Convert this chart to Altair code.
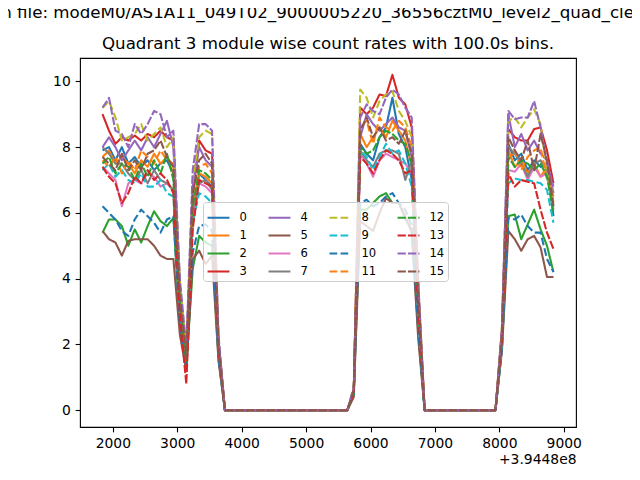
import altair as alt
import pandas as pd

# Bin times (s, relative to the axis offset +3.9448e8), 100 s bins
time_s = [1840, 1940, 2040, 2140, 2240, 2340, 2440, 2540, 2640, 2740,
          2840, 2940, 3040, 3140, 3240, 3340, 3440, 3540, 3640, 3740,
          3840, 3940, 4040, 4140, 4240, 4340, 4440, 4540, 4640, 4740,
          4840, 4940, 5040, 5140, 5240, 5340, 5440, 5540, 5640, 5740,
          5840, 5940, 6040, 6140, 6240, 6340, 6440, 6540, 6640, 6740,
          6840, 6940, 7040, 7140, 7240, 7340, 7440, 7540, 7640, 7740,
          7840, 7940, 8040, 8140, 8240, 8340, 8440, 8540, 8640, 8740,
          8840]

modules = [str(i) for i in range(16)]

m0 = [7.9, 8.0, 7.6, 8.0, 7.5, 7.7, 7.4, 7.6, 7.3, 7.5, 7.6, 7.2, 3.2, 1.4, 5.8, 7.2, 7.0, 6.8, 1.9,
      0, 0, 0, 0, 0, 0, 0, 0, 0, 0, 0, 0, 0, 0, 0, 0, 0, 0, 0, 0,
      0.6, 8.1, 7.8, 7.6, 8.3, 8.6, 9.5, 8.4, 8.0, 7.0, 3.0,
      0, 0, 0, 0, 0, 0, 0, 0, 0, 0, 0, 0,
      2.2, 8.1, 7.6, 7.8, 7.3, 7.6, 7.4, 7.5, 5.9]
m1 = [7.7, 7.9, 7.5, 7.7, 7.5, 7.2, 7.6, 7.4, 7.8, 7.5, 7.7, 7.4, 3.4, 1.6, 6.2, 7.2, 7.1, 6.9, 2.0,
      0, 0, 0, 0, 0, 0, 0, 0, 0, 0, 0, 0, 0, 0, 0, 0, 0, 0, 0, 0,
      0.5, 8.4, 8.0, 8.3, 8.6, 8.3, 8.8, 8.5, 8.2, 7.4, 3.4,
      0, 0, 0, 0, 0, 0, 0, 0, 0, 0, 0, 0,
      2.3, 7.9, 7.4, 7.6, 7.2, 7.5, 7.1, 7.4, 6.3]
m2 = [5.4, 5.8, 5.8, 5.6, 5.0, 5.5, 5.1, 5.6, 6.05, 5.75, 5.6, 5.85, 2.6, 1.3, 4.3, 5.3, 5.1, 5.0, 1.6,
      0, 0, 0, 0, 0, 0, 0, 0, 0, 0, 0, 0, 0, 0, 0, 0, 0, 0, 0, 0,
      0.5, 6.1, 6.1, 6.3, 6.5, 6.6, 6.3, 6.3, 5.8, 5.5, 2.4,
      0, 0, 0, 0, 0, 0, 0, 0, 0, 0, 0, 0,
      1.9, 5.9, 5.95, 5.2, 5.65, 6.1, 5.5, 5.0, 4.2]
m3 = [9.0, 8.5, 8.1, 8.3, 8.2, 8.35, 8.2, 8.4, 8.3, 8.5, 8.3, 8.2, 3.6, 1.5, 6.5, 8.2, 7.9, 7.8, 2.1,
      0, 0, 0, 0, 0, 0, 0, 0, 0, 0, 0, 0, 0, 0, 0, 0, 0, 0, 0, 0,
      0.6, 9.2, 9.0, 9.2, 9.6, 9.55, 10.2, 9.5, 9.3, 8.6, 3.8,
      0, 0, 0, 0, 0, 0, 0, 0, 0, 0, 0, 0,
      2.4, 8.55, 8.3, 8.2, 8.2, 8.55, 8.6, 7.9, 6.9]
m4 = [8.0, 8.3, 8.0, 7.6, 7.9, 8.2, 7.9, 8.3, 8.0, 8.4, 8.8, 8.0, 3.8, 1.7, 6.8, 8.0, 7.6, 7.4, 2.0,
      0, 0, 0, 0, 0, 0, 0, 0, 0, 0, 0, 0, 0, 0, 0, 0, 0, 0, 0, 0,
      0.6, 8.3, 9.0, 8.7, 8.5, 8.7, 8.9, 8.6, 8.5, 7.7, 3.6,
      0, 0, 0, 0, 0, 0, 0, 0, 0, 0, 0, 0,
      2.4, 9.0, 8.0, 8.4, 7.9, 8.2, 7.8, 7.6, 6.6]
m5 = [5.45, 5.2, 5.1, 4.7, 5.15, 5.2, 5.2, 5.2, 5.0, 4.7, 4.6, 4.6, 2.3, 1.2, 4.6, 4.85, 4.45, 4.7, 1.5,
      0, 0, 0, 0, 0, 0, 0, 0, 0, 0, 0, 0, 0, 0, 0, 0, 0, 0, 0, 0,
      0.4, 5.75, 5.6, 5.45, 6.0, 6.45, 6.3, 6.3, 5.9, 5.4, 2.2,
      0, 0, 0, 0, 0, 0, 0, 0, 0, 0, 0, 0,
      1.8, 5.45, 5.2, 4.85, 5.2, 5.3, 4.95, 4.05, 4.05]
m6 = [7.4, 7.2, 7.0, 6.2, 6.9, 7.0, 6.9, 7.2, 7.1, 6.8, 6.9, 6.7, 3.0, 1.4, 6.0, 6.9, 6.8, 6.6, 1.8,
      0, 0, 0, 0, 0, 0, 0, 0, 0, 0, 0, 0, 0, 0, 0, 0, 0, 0, 0, 0,
      0.5, 7.8, 7.5, 7.1, 7.6, 7.8, 7.7, 7.6, 7.5, 7.2, 3.0,
      0, 0, 0, 0, 0, 0, 0, 0, 0, 0, 0, 0,
      2.1, 7.3, 7.25, 7.5, 7.0, 7.4, 7.1, 7.2, 6.1]
m7 = [8.0, 7.8, 7.5, 7.5, 7.2, 7.0, 7.3, 6.9, 7.3, 7.0, 6.9, 6.7, 3.1, 1.5, 6.1, 6.9, 7.0, 6.7, 1.8,
      0, 0, 0, 0, 0, 0, 0, 0, 0, 0, 0, 0, 0, 0, 0, 0, 0, 0, 0, 0,
      0.5, 7.9, 7.6, 7.4, 7.8, 7.9, 7.9, 7.8, 7.0, 7.6, 3.1,
      0, 0, 0, 0, 0, 0, 0, 0, 0, 0, 0, 0,
      2.2, 8.0, 7.8, 7.5, 7.1, 7.5, 7.6, 7.3, 6.2]
m8 = [9.2, 9.4, 8.9, 8.2, 8.3, 8.4, 8.7, 8.2, 8.4, 8.6, 8.0, 8.3, 3.9, 1.8, 7.0, 8.3, 8.5, 8.4, 2.2,
      0, 0, 0, 0, 0, 0, 0, 0, 0, 0, 0, 0, 0, 0, 0, 0, 0, 0, 0, 0,
      0.7, 9.75, 9.5, 8.9, 9.4, 9.6, 9.7, 9.1, 8.8, 8.3, 3.9,
      0, 0, 0, 0, 0, 0, 0, 0, 0, 0, 0, 0,
      2.5, 8.8, 8.9, 8.6, 8.9, 9.15, 8.7, 7.2, 6.5]
m9 = [7.3, 7.5, 7.1, 7.3, 7.0, 6.9, 7.2, 6.8, 6.8, 7.0, 6.6, 6.5, 3.0, 1.4, 5.7, 6.6, 6.5, 6.3, 1.7,
      0, 0, 0, 0, 0, 0, 0, 0, 0, 0, 0, 0, 0, 0, 0, 0, 0, 0, 0, 0,
      0.5, 7.9, 7.7, 7.3, 7.7, 8.1, 7.8, 7.9, 7.5, 6.8, 2.8,
      0, 0, 0, 0, 0, 0, 0, 0, 0, 0, 0, 0,
      2.0, 6.9, 7.05, 7.0, 7.0, 6.95, 6.9, 6.7, 5.7]
m10 = [6.2, 6.0, 5.8, 5.45, 5.3, 5.8, 6.1, 5.9, 5.7, 5.4, 5.8, 5.9, 2.7, 1.3, 4.8, 5.6, 5.65, 5.45, 1.6,
       0, 0, 0, 0, 0, 0, 0, 0, 0, 0, 0, 0, 0, 0, 0, 0, 0, 0, 0, 0,
       0.5, 6.3, 6.4, 6.2, 6.3, 6.5, 6.6, 6.3, 6.1, 5.6, 2.5,
       0, 0, 0, 0, 0, 0, 0, 0, 0, 0, 0, 0,
       1.9, 5.85, 5.8, 5.95, 5.6, 5.4, 5.4, 4.6, 4.2]
m11 = [7.6, 7.4, 7.7, 7.2, 7.6, 7.3, 7.9, 7.7, 7.5, 7.9, 7.6, 7.5, 3.4, 1.6, 6.3, 7.4, 7.5, 7.2, 2.0,
       0, 0, 0, 0, 0, 0, 0, 0, 0, 0, 0, 0, 0, 0, 0, 0, 0, 0, 0, 0,
       0.6, 8.6, 8.8, 8.1, 8.9, 8.6, 8.5, 8.8, 8.6, 8.0, 3.7,
       0, 0, 0, 0, 0, 0, 0, 0, 0, 0, 0, 0,
       2.3, 7.6, 7.9, 7.3, 7.7, 7.9, 8.0, 7.0, 6.5]
m12 = [7.5, 7.7, 7.2, 7.5, 7.4, 7.0, 7.5, 7.1, 7.6, 7.2, 7.8, 7.0, 3.3, 1.5, 6.2, 7.3, 7.2, 7.0, 1.9,
       0, 0, 0, 0, 0, 0, 0, 0, 0, 0, 0, 0, 0, 0, 0, 0, 0, 0, 0, 0,
       0.5, 8.0, 7.8, 7.9, 8.3, 8.5, 8.4, 8.2, 8.1, 7.5, 3.2,
       0, 0, 0, 0, 0, 0, 0, 0, 0, 0, 0, 0,
       2.2, 7.7, 7.4, 7.6, 7.5, 7.3, 7.5, 7.1, 6.0]
m13 = [7.4, 7.1, 6.9, 6.3, 6.6, 7.1, 6.9, 7.3, 7.0, 7.2, 7.0, 6.6, 2.9, 0.8, 5.5, 7.0, 6.9, 6.8, 1.8,
       0, 0, 0, 0, 0, 0, 0, 0, 0, 0, 0, 0, 0, 0, 0, 0, 0, 0, 0, 0,
       0.5, 7.7, 7.5, 7.2, 7.6, 7.9, 7.8, 7.6, 7.2, 7.3, 3.0,
       0, 0, 0, 0, 0, 0, 0, 0, 0, 0, 0, 0,
       2.1, 7.2, 6.8, 7.0, 6.95, 6.9, 6.1, 5.4, 4.9]
m14 = [9.2, 9.5, 8.5, 8.4, 8.0, 8.7, 8.4, 8.7, 9.1, 9.0, 8.3, 8.5, 4.0, 1.9, 7.3, 8.7, 8.7, 8.5, 2.3,
       0, 0, 0, 0, 0, 0, 0, 0, 0, 0, 0, 0, 0, 0, 0, 0, 0, 0, 0, 0,
       0.7, 8.9, 9.3, 9.1, 9.0, 9.5, 9.75, 9.6, 9.2, 8.9, 4.0,
       0, 0, 0, 0, 0, 0, 0, 0, 0, 0, 0, 0,
       2.5, 9.1, 8.85, 8.9, 8.9, 9.4, 8.6, 7.5, 6.8]
m15 = [7.7, 7.5, 7.3, 7.8, 7.3, 7.6, 7.3, 7.8, 7.9, 8.2, 7.7, 7.4, 3.5, 1.6, 6.6, 7.6, 7.8, 7.5, 2.0,
       0, 0, 0, 0, 0, 0, 0, 0, 0, 0, 0, 0, 0, 0, 0, 0, 0, 0, 0, 0,
       0.6, 8.5, 8.9, 8.3, 8.6, 8.2, 8.3, 8.1, 8.5, 7.8, 3.6,
       0, 0, 0, 0, 0, 0, 0, 0, 0, 0, 0, 0,
       2.3, 8.3, 7.9, 7.6, 8.2, 7.3, 8.4, 7.6, 6.2]

series = [m0, m1, m2, m3, m4, m5, m6, m7, m8, m9, m10, m11, m12, m13, m14, m15]

colors = ["#1f77b4", "#ff7f0e", "#2ca02c", "#d62728", "#9467bd", "#8c564b",
          "#e377c2", "#7f7f7f", "#bcbd22", "#17becf", "#1f77b4", "#ff7f0e",
          "#2ca02c", "#d62728", "#9467bd", "#8c564b"]
dashes = [[1, 0]] * 8 + [[7.7, 3.3]] * 4 + [[8.3, 2.1]] * 4

x_ticks = [2000, 3000, 4000, 5000, 6000, 7000, 8000, 9000]
y_ticks = [0, 2, 4, 6, 8, 10]

title_line1 = "n file: modeM0/AS1A11_049T02_9000005220_36556cztM0_level2_quad_clean\u00a0\u00a0\u00a0"
title_line2 = "Quadrant 3 module wise count rates with 100.0s bins."

rows = []
for mod, vals in zip(modules, series):
    for t, v in zip(time_s, vals):
        rows.append({"t": t, "rate": v, "module": mod})
df = pd.DataFrame(rows)

FONT = "DejaVu Sans"

legend = alt.Legend(
    title=None, orient="none", legendX=123, legendY=144, columns=4,
    symbolType="stroke", symbolSize=480, symbolStrokeWidth=2.08,
    labelFont=FONT, labelFontSize=11.57, labelColor="black", labelOffset=9,
    columnPadding=16, rowPadding=-3.2, padding=3.5,
    fillColor="rgba(255,255,255,0.8)", strokeColor="#cccccc", cornerRadius=3,
)

chart = alt.Chart(df).mark_line(strokeWidth=2.08, strokeJoin="round", clip=True).encode(
    x=alt.X("t:Q",
            scale=alt.Scale(domain=[1490, 9190], nice=False, zero=False),
            axis=alt.Axis(values=x_ticks, format="d", title="+3.9448e8",
                          titleAnchor="end", titleAlign="right", titleFontWeight="normal",
                          titleFont=FONT, titleFontSize=13.89, titleColor="black",
                          titlePadding=2)),
    y=alt.Y("rate:Q",
            scale=alt.Scale(domain=[-0.51, 10.71], nice=False, zero=False),
            axis=alt.Axis(values=y_ticks, format="d", title=None)),
    color=alt.Color("module:N", scale=alt.Scale(domain=modules, range=colors), legend=legend),
    strokeDash=alt.StrokeDash("module:N", scale=alt.Scale(domain=modules, range=dashes), legend=legend),
).properties(
    width=496, height=369,
    autosize=alt.AutoSizeParams(type="none"),
    padding={"left": 72, "top": 50, "right": 56, "bottom": 45},
    title=alt.TitleParams(
        text=title_line1, subtitle=title_line2, anchor="middle",
        font=FONT, fontSize=16.67, fontWeight="normal", color="black",
        subtitleFont=FONT, subtitleFontSize=16.67, subtitleColor="black",
        subtitlePadding=15, offset=5,
    ),
).configure(font=FONT, background="white").configure_axis(
    labelFont=FONT, labelFontSize=13.89, labelColor="black",
    tickColor="black", tickWidth=1.11, tickSize=4.86, labelPadding=4.86,
    domain=False, grid=False,
).configure_view(stroke="black", strokeWidth=1.11)

chart.save("out.html", embed_options={"renderer": "svg", "actions": False})
